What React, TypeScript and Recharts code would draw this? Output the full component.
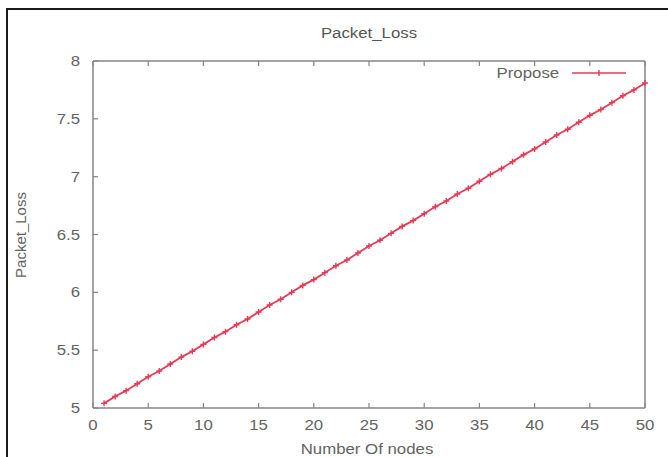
import React from "react";
import { LineChart, Line, XAxis, YAxis } from "recharts";

const nodes = [
  1, 2, 3, 4, 5, 6, 7, 8, 9, 10, 11, 12, 13, 14, 15, 16, 17, 18, 19, 20, 21,
  22, 23, 24, 25, 26, 27, 28, 29, 30, 31, 32, 33, 34, 35, 36, 37, 38, 39, 40,
  41, 42, 43, 44, 45, 46, 47, 48, 49, 50,
];

const packetLoss = [
  5.04, 5.1, 5.15, 5.21, 5.27, 5.32, 5.38, 5.44, 5.49, 5.55, 5.61, 5.66, 5.72,
  5.77, 5.83, 5.89, 5.94, 6.0, 6.06, 6.11, 6.17, 6.23, 6.28, 6.34, 6.4, 6.45,
  6.51, 6.57, 6.62, 6.68, 6.74, 6.79, 6.85, 6.9, 6.96, 7.02, 7.07, 7.13, 7.19,
  7.24, 7.3, 7.36, 7.41, 7.47, 7.53, 7.58, 7.64, 7.7, 7.75, 7.81,
];

const xTicks = [0, 5, 10, 15, 20, 25, 30, 35, 40, 45, 50];
const yTicks = [5, 5.5, 6, 6.5, 7, 7.5, 8];

const data = nodes.map((n, i) => ({ node: n, loss: packetLoss[i] }));

const RED = "#e63a55";
const AXIS = "#858585";
const TEXT = "#636363";
const FONT = "'Liberation Sans', Arial, sans-serif";
// the reference image is stretched sideways, so text is widened a bit
const STRETCH = 1.2;

const BottomTick = (props: any) => {
  const { x, y, payload } = props;
  return (
    <g>
      <line x1={x} x2={x} y1={y - 11} y2={y - 16} stroke={AXIS} strokeWidth={1.2} />
      <text
        transform={`translate(${x},${y + 11}) scale(${STRETCH},1)`}
        textAnchor="middle"
        fill={TEXT}
        fontSize={14}
        fontFamily={FONT}
      >
        {payload.value}
      </text>
    </g>
  );
};

const TopTick = (props: any) => {
  const { x, y } = props;
  return <line x1={x} x2={x} y1={y} y2={y + 5} stroke={AXIS} strokeWidth={1.2} />;
};

const LeftTick = (props: any) => {
  const { x, y, payload } = props;
  return (
    <g>
      <line x1={x + 13} x2={x + 18} y1={y} y2={y} stroke={AXIS} strokeWidth={1.2} />
      <text
        transform={`translate(${x},${y + 5}) scale(${STRETCH},1)`}
        textAnchor="end"
        fill={TEXT}
        fontSize={14}
        fontFamily={FONT}
      >
        {payload.value}
      </text>
    </g>
  );
};

const RightTick = (props: any) => {
  const { x, y } = props;
  return <line x1={x} x2={x - 5} y1={y} y2={y} stroke={AXIS} strokeWidth={1.2} />;
};

const PlusDot = (props: any) => {
  const { cx, cy, index } = props;
  if (cx == null || cy == null) return <g key={index} />;
  return (
    <path
      key={index}
      d={`M${cx - 3},${cy}H${cx + 3}M${cx},${cy - 3}V${cy + 3}`}
      stroke={RED}
      strokeWidth={1.4}
    />
  );
};

export default function App() {
  return (
    <div
      style={{
        position: "fixed",
        left: 0,
        top: 0,
        width: 668,
        height: 457,
        overflow: "hidden",
        background: "#fff",
      }}
    >
      <div
        style={{
          position: "absolute",
          left: 6,
          top: 8,
          width: 700,
          height: 500,
          border: "2px solid #1a1a1a",
        }}
      />
      <div
        style={{
          position: "absolute",
          left: 93,
          width: 552,
          top: 25,
          textAlign: "center",
          fontFamily: FONT,
          fontSize: 14,
          lineHeight: "16px",
          color: "#555",
          transform: `scaleX(${STRETCH})`,
        }}
      >
        Packet_Loss
      </div>
      <div
        style={{
          position: "absolute",
          left: 20,
          top: 235,
          transform: "translate(-50%, -50%) rotate(-90deg)",
          fontFamily: FONT,
          fontSize: 15,
          color: TEXT,
          whiteSpace: "nowrap",
        }}
      >
        Packet_Loss
      </div>
      <div
        style={{
          position: "absolute",
          left: 93,
          width: 548,
          top: 441,
          textAlign: "center",
          fontFamily: FONT,
          fontSize: 14,
          lineHeight: "16px",
          color: TEXT,
          transform: `scaleX(${STRETCH})`,
        }}
      >
        Number Of nodes
      </div>
      <div style={{ position: "absolute", left: 0, top: 0 }}>
        <LineChart
          width={668}
          height={457}
          data={data}
          margin={{ top: 59, right: 21, bottom: 19, left: 53 }}
        >
          <XAxis
            xAxisId="bottom"
            dataKey="node"
            type="number"
            domain={[0, 50]}
            ticks={xTicks}
            height={30}
            tickSize={0}
            tickMargin={11}
            tickLine={false}
            axisLine={{ stroke: AXIS, strokeWidth: 1.5 }}
            tick={<BottomTick />}
            interval={0}
          />
          <XAxis
            xAxisId="top"
            orientation="top"
            dataKey="node"
            type="number"
            domain={[0, 50]}
            ticks={xTicks}
            height={2}
            tickSize={0}
            tickMargin={0}
            tickLine={false}
            axisLine={{ stroke: AXIS, strokeWidth: 1.5 }}
            tick={<TopTick />}
            interval={0}
          />
          <YAxis
            yAxisId="left"
            type="number"
            domain={[5, 8]}
            ticks={yTicks}
            width={40}
            tickSize={0}
            tickMargin={13}
            tickLine={false}
            axisLine={{ stroke: AXIS, strokeWidth: 1.5 }}
            tick={<LeftTick />}
            interval={0}
          />
          <YAxis
            yAxisId="right"
            orientation="right"
            type="number"
            domain={[5, 8]}
            ticks={yTicks}
            width={2}
            tickSize={0}
            tickMargin={0}
            tickLine={false}
            axisLine={{ stroke: AXIS, strokeWidth: 1.5 }}
            tick={<RightTick />}
            interval={0}
          />
          <Line
            xAxisId="bottom"
            yAxisId="left"
            dataKey="loss"
            name="Propose"
            stroke={RED}
            strokeWidth={1.8}
            dot={<PlusDot />}
            isAnimationActive={false}
          />
        </LineChart>
      </div>
      <div
        style={{
          position: "absolute",
          right: 109,
          top: 65,
          fontFamily: FONT,
          fontSize: 14,
          lineHeight: "16px",
          color: TEXT,
          transform: `scaleX(${STRETCH})`,
          transformOrigin: "right center",
        }}
      >
        Propose
      </div>
      <svg
        width={60}
        height={10}
        style={{ position: "absolute", left: 570, top: 68 }}
      >
        <line x1={2} x2={56} y1={5} y2={5} stroke={RED} strokeWidth={1.4} />
        <line x1={29} x2={29} y1={2} y2={8} stroke={RED} strokeWidth={1.4} />
      </svg>
    </div>
  );
}
